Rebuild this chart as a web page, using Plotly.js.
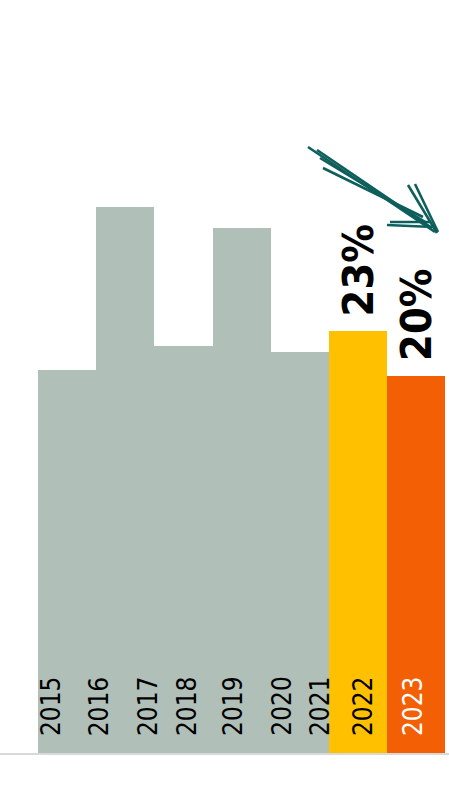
<!DOCTYPE html>
<html>
<head>
<meta charset="utf-8">
<script src="https://cdn.plot.ly/plotly-3.0.1.min.js"></script>
<style>
html,body{margin:0;padding:0;background:#fff;}
#chart{width:449px;height:786px;}
</style>
</head>
<body>
<div id="chart"></div>
<script>
// ---- data ----
const years = ['2015','2016','2017','2018','2019','2020','2021','2022','2023'];
const greyValues = [20.7, 29.5, 22.0, 28.4, 21.7];   // grey step heights (%)
const highlightYears = ['2022','2023'];
const highlightValues = [22.8, 20.4];                // %
const highlightLabels = ['23%','20%'];

// ---- styling / layout ----
const greyColor = '#b0bfb8';
const highlightColors = ['#ffc000','#f25f05'];
const labelColors = ['#000','#000','#000','#000','#000','#000','#000','#000','#fff'];
// x positions of year labels along the slot axis (layout)
const labelPos = [-0.28, 0.55, 1.39, 2.06, 2.85, 3.69, 4.35, 5.09, 5.95];

const W = 449, PH = 753;
const px = x => x / W;
const py = y => 1 - y / PH;

const allValues = greyValues.concat(highlightValues);
const slots = allValues.map((_, i) => i);
const colors = greyValues.map(() => greyColor).concat(highlightColors);

const traces = [{
  type: 'bar',
  x: slots,
  y: allValues,
  width: allValues.map(() => 1),
  marker: {color: colors, line: {width: 0}},
  hoverinfo: 'skip'
}];

const fontFam = '"Liberation Sans Narrow", "DejaVu Sans Condensed", sans-serif';
const annotations = [];
years.forEach((yr, i) => {
  annotations.push({
    x: labelPos[i], y: 0, xref: 'x', yref: 'y',
    text: yr, showarrow: false, textangle: -90,
    xanchor: 'center', yanchor: 'bottom', yshift: 15,
    font: {family: fontFam, size: 26, color: labelColors[i]}
  });
});
highlightValues.forEach((v, i) => {
  annotations.push({
    x: greyValues.length + i, y: v, xref: 'x', yref: 'y',
    text: '<b>' + highlightLabels[i] + '</b>', showarrow: false, textangle: -90,
    xanchor: 'center', yanchor: 'bottom', yshift: 13,
    font: {family: fontFam, size: 43, color: '#000'}
  });
});

// hand-drawn arrow strokes (decoration, pixel coords)
const strokes = [
  [308,147,435,232],[317,150,432,228],[320,158,427,223],[323,168,423,217],
  [408,185,437,233],[415,184,438,232],
  [387,225,433,227],[390,222,430,222]
];
const shapes = strokes.map(s => ({
  type: 'line', xref: 'paper', yref: 'paper',
  x0: px(s[0]), y0: py(s[1]), x1: px(s[2]), y1: py(s[3]),
  line: {color: '#0e5f5c', width: 2.6}
}));

const layout = {
  width: 449, height: 786,
  margin: {l: 0, r: 0, t: 0, b: 33, pad: 0},
  paper_bgcolor: '#fff', plot_bgcolor: '#fff',
  showlegend: false,
  bargap: 0,
  xaxis: {
    range: [-1.159, 6.569], showgrid: false, zeroline: false,
    showticklabels: false, ticks: '', fixedrange: true,
    showline: true, linecolor: '#d9d9d9', linewidth: 2
  },
  yaxis: {
    range: [0, 753 / 18.5], showgrid: false, zeroline: false,
    showticklabels: false, ticks: '', showline: false, fixedrange: true
  },
  annotations: annotations,
  shapes: shapes
};

Plotly.newPlot('chart', traces, layout, {displayModeBar: false, staticPlot: true});
</script>
</body>
</html>
